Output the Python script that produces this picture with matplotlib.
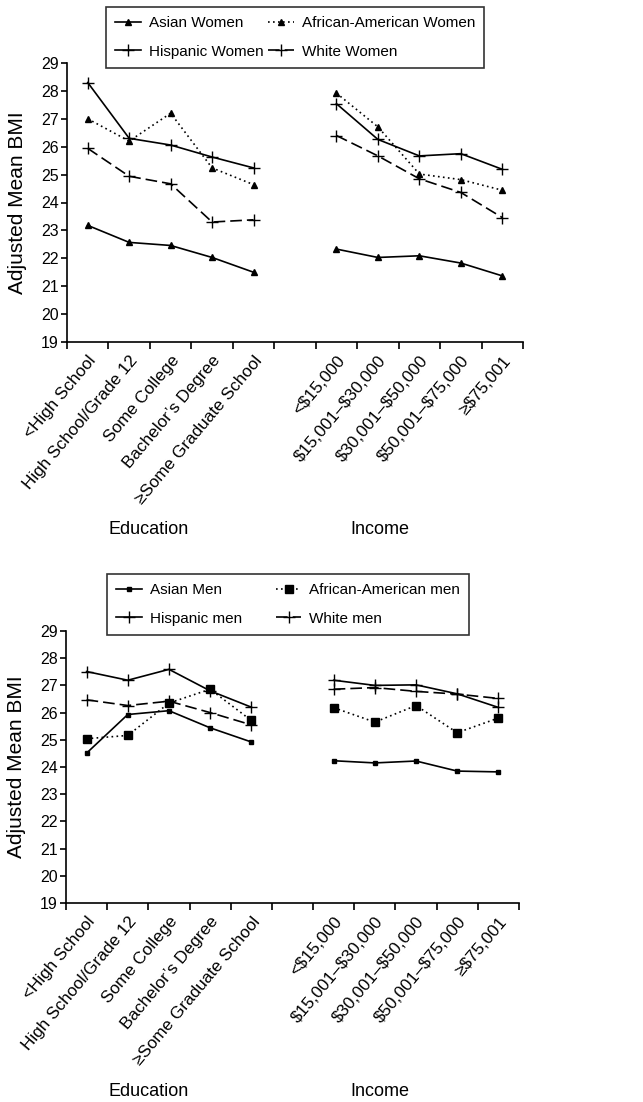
import numpy as np
import matplotlib.pyplot as plt

plt.rcParams['font.family'] = ['Liberation Sans', 'DejaVu Sans']

edu_labels = ["<High School", "High School/Grade 12", "Some College",
              "Bachelor\u2019s Degree", "\u2265Some Graduate School"]
inc_labels = ["<$15,000", "$15,001\u2013$30,000", "$30,001\u2013$50,000",
              "$50,001\u2013$75,000", "\u2265$75,001"]

# women: education then income
asian_w_edu = [23.18, 22.57, 22.46, 22.03, 21.50]
asian_w_inc = [22.33, 22.03, 22.09, 21.83, 21.37]
afam_w_edu = [27.00, 26.20, 27.20, 25.24, 24.64]
afam_w_inc = [27.92, 26.71, 25.02, 24.82, 24.44]
hisp_w_edu = [28.30, 26.30, 26.06, 25.63, 25.24]
hisp_w_inc = [27.54, 26.26, 25.67, 25.75, 25.19]
white_w_edu = [25.94, 24.94, 24.67, 23.30, 23.38]
white_w_inc = [26.40, 25.67, 24.85, 24.36, 23.46]

# men
asian_m_edu = [24.51, 25.93, 26.07, 25.44, 24.92]
asian_m_inc = [24.23, 24.15, 24.22, 23.85, 23.82]
afam_m_edu = [25.04, 25.16, 26.35, 26.86, 25.71]
afam_m_inc = [26.18, 25.65, 26.26, 25.26, 25.80]
hisp_m_edu = [27.51, 27.19, 27.59, 26.80, 26.20]
hisp_m_inc = [27.19, 27.00, 27.02, 26.69, 26.19]
white_m_edu = [26.47, 26.26, 26.42, 26.00, 25.55]
white_m_inc = [26.86, 26.92, 26.78, 26.68, 26.52]

x_edu = np.arange(5)
x_inc = np.arange(6, 11)
all_labels = edu_labels + [""] + inc_labels

W = 643 / 100
H = 1102 / 100
fig = plt.figure(figsize=(W, H), dpi=100)


def px_axes(left, top, right, bottom):
    return fig.add_axes([left / 643, 1 - bottom / 1102,
                         (right - left) / 643, (bottom - top) / 1102])


def draw_panel(ax, series, leg_anchor, colspace):
    handles = []
    for name, edu, inc, ls, mk, ms, dash in series:
        kw = dict(color='black', lw=1.2, linestyle=ls, marker=mk,
                  markersize=ms, markeredgewidth=1.0)
        if dash is not None:
            kw['dashes'] = dash
        ln, = ax.plot(x_edu, edu, label=name, **kw)
        ax.plot(x_inc, inc, **kw)
        handles.append(ln)
    ax.set_xlim(-0.5, 10.5)
    ax.set_ylim(19, 29)
    ax.set_yticks(np.arange(19, 30, 1))
    ax.spines['top'].set_visible(False)
    ax.spines['right'].set_visible(False)
    ax.spines['left'].set_linewidth(1.2)
    ax.spines['bottom'].set_linewidth(1.2)
    ax.set_xticks(np.arange(11))
    ax.set_xticklabels(all_labels, rotation=50, ha='right',
                       rotation_mode='anchor', fontsize=12.3,
                       parse_math=False)
    ax.tick_params(axis='x', which='major', length=0, pad=8)
    ax.set_xticks(np.arange(-0.5, 11, 1), minor=True)
    ax.tick_params(axis='x', which='minor', length=5, width=1.2,
                   direction='out')
    ax.tick_params(axis='y', length=4, width=1.2, labelsize=11.5, pad=2)
    ax.set_ylabel("Adjusted Mean BMI", fontsize=15, labelpad=10)
    # order: row-wise two columns
    order = [handles[0], handles[2], handles[1], handles[3]]
    leg = fig.legend(order, [h.get_label() for h in order],
                     loc='upper left', bbox_to_anchor=leg_anchor, ncol=2,
                     fontsize=11, frameon=True, fancybox=False,
                     edgecolor='black', handlelength=1.7,
                     handletextpad=0.5, columnspacing=colspace,
                     borderpad=0.6, labelspacing=0.95, borderaxespad=0)
    leg.get_frame().set_linewidth(1.2)
    return leg


women = [
    ("Asian Women", asian_w_edu, asian_w_inc, '-', '^', 4, None),
    ("African-American Women", afam_w_edu, afam_w_inc, ':', '^', 4, (1, 2)),
    ("Hispanic Women", hisp_w_edu, hisp_w_inc, '-', '+', 8, None),
    ("White Women", white_w_edu, white_w_inc, '--', '+', 8, (7, 3)),
]
men = [
    ("Asian Men", asian_m_edu, asian_m_inc, '-', 's', 3.5, None),
    ("African-American men", afam_m_edu, afam_m_inc, ':', 's', 6, (1, 2)),
    ("Hispanic men", hisp_m_edu, hisp_m_inc, '-', '+', 8, None),
    ("White men", white_m_edu, white_m_inc, '--', '+', 8, (7, 3)),
]

ax1 = px_axes(67, 63, 523, 342)
draw_panel(ax1, women, (106 / 643, 1 - 7 / 1102), 0.3)
fig.text(149 / 643, 1 - 530 / 1102, "Education", ha='center', va='center',
         fontsize=13)
fig.text(380 / 643, 1 - 530 / 1102, "Income", ha='center', va='center',
         fontsize=13)

ax2 = px_axes(66, 631, 519, 903)
draw_panel(ax2, men, (107 / 643, 1 - 574 / 1102), 2.2)
fig.text(149 / 643, 1 - 1092 / 1102, "Education", ha='center', va='center',
         fontsize=13)
fig.text(380 / 643, 1 - 1092 / 1102, "Income", ha='center', va='center',
         fontsize=13)

fig.savefig("out.png", dpi=100)
